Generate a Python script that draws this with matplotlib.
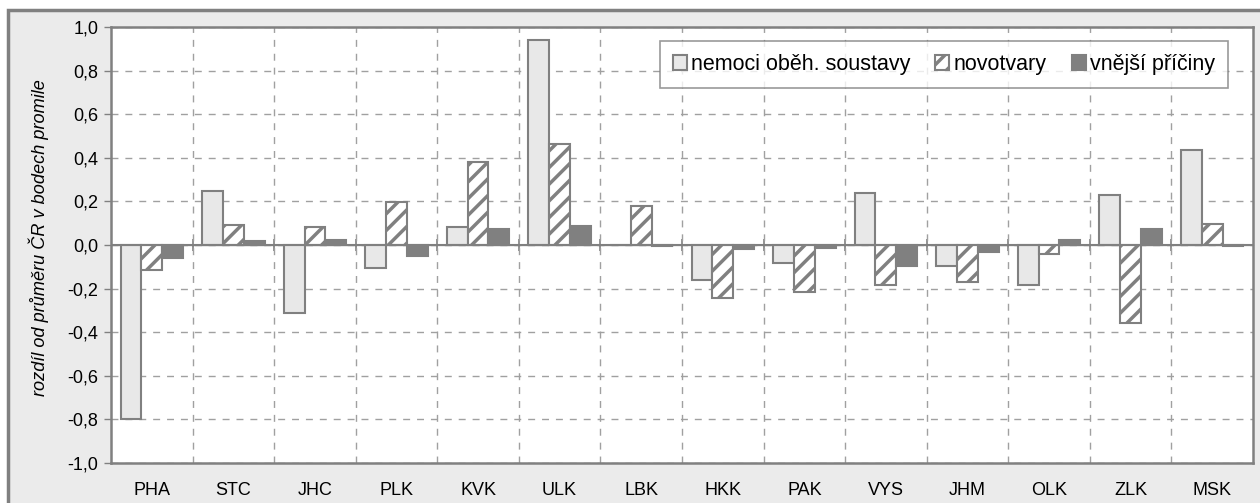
import matplotlib.pyplot as plt
import numpy as np
from matplotlib.patches import Rectangle
from matplotlib.ticker import FuncFormatter

# data
regions = ['PHA', 'STC', 'JHC', 'PLK', 'KVK', 'ULK', 'LBK', 'HKK', 'PAK', 'VYS', 'JHM', 'OLK', 'ZLK', 'MSK']
nemoci = [-0.80, 0.248, -0.313, -0.107, 0.083, 0.94, 0.002, -0.16, -0.084, 0.238, -0.096, -0.185, 0.231, 0.437]
novotvary = [-0.115, 0.09, 0.084, 0.197, 0.379, 0.462, 0.178, -0.242, -0.217, -0.183, -0.17, -0.041, -0.356, 0.095]
vnejsi = [-0.061, 0.018, 0.024, -0.05, 0.072, 0.087, -0.005, -0.018, -0.013, -0.095, -0.032, 0.021, 0.075, -0.004]

plt.rcParams['font.family'] = ['Liberation Sans', 'DejaVu Sans']
plt.rcParams['hatch.linewidth'] = 2.5

edge = '#808080'
fig = plt.figure(figsize=(12.6, 5.03), dpi=100)
fig.patch.set_facecolor('white')
# grey frame behind the chart
fig.patches.append(Rectangle((0.0063, -0.02), 1.0, 1.0, transform=fig.transFigure,
                             facecolor='#ebebeb', edgecolor=edge, linewidth=2.5, zorder=-10))

ax = fig.add_axes([0.0881, 0.0795, 0.9063, 0.8668])
ax.set_facecolor('white')

x = np.arange(len(regions))
w = 0.255
ax.bar(x - w, nemoci, w, color='#e8e8e8', edgecolor=edge, linewidth=1.5, label='nemoci oběh. soustavy', zorder=3)
ax.bar(x, novotvary, w, color='white', edgecolor=edge, hatch='//', linewidth=1.5, label='novotvary', zorder=3)
ax.bar(x + w, vnejsi, w, color=edge, edgecolor=edge, linewidth=1.5, label='vnější příčiny', zorder=3)

ax.axhline(0, color=edge, linewidth=1.5, zorder=4)

ax.set_xlim(-0.5, len(regions) - 0.5)
ax.set_ylim(-1.0, 1.0)
ax.set_yticks(np.arange(-1.0, 1.01, 0.2))
ax.yaxis.set_major_formatter(FuncFormatter(lambda v, p: f'{v:.1f}'.replace('.', ',').replace('-0,0', '0,0')))
ax.set_xticks(x)
ax.set_xticklabels(regions)
ax.set_xticks(np.arange(0.5, len(regions) - 0.5, 1), minor=True)

ax.tick_params(axis='x', which='both', length=0, pad=14, labelsize=13)
ax.tick_params(axis='y', length=5, color=edge, width=1, labelsize=13, pad=4)

ax.grid(axis='y', which='major', color='#a0a0a0', linestyle=(0, (5, 5)), linewidth=1, zorder=1)
ax.grid(axis='x', which='minor', color='#a0a0a0', linestyle=(0, (5, 5)), linewidth=1, zorder=1)

for s in ax.spines.values():
    s.set_color(edge)
    s.set_linewidth(1.8)

# ticks on the category axis at zero
sec = ax.secondary_xaxis(0.5)
sec.set_xticks(np.arange(0.5, len(regions) - 0.5, 1))
sec.set_xticklabels([])
sec.tick_params(direction='inout', length=8, color=edge, width=1.2)
sec.spines['bottom'].set_visible(False)

ax.set_ylabel('rozdíl od průměru ČR v bodech promile', fontsize=13.1, style='italic')
ax.yaxis.set_label_coords(-0.054, 0.516)

leg = ax.legend(loc='upper right', bbox_to_anchor=(0.978, 0.968), borderaxespad=0, ncol=3, fontsize=15.5,
                frameon=True, fancybox=False, edgecolor=edge, handlelength=0.65, handleheight=0.65,
                handletextpad=0.2, columnspacing=1.16, borderpad=0.6)
leg.get_frame().set_linewidth(1.2)

plt.savefig('out.png', dpi=100)
